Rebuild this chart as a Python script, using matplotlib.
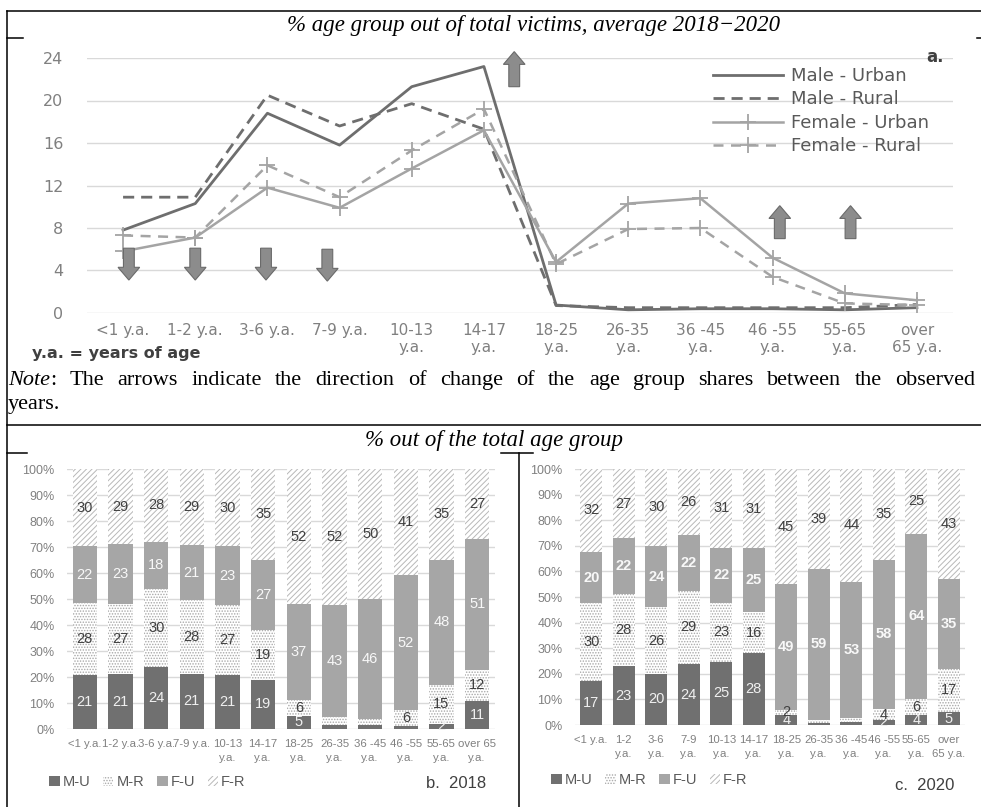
import matplotlib
matplotlib.use("Agg")
import matplotlib.pyplot as plt
import numpy as np
from matplotlib.lines import Line2D
from matplotlib.patches import FancyArrow, Patch
from matplotlib import font_manager as fm

W, H = 981, 807

# ---------------- data ----------------
top_groups = ["<1 y.a.", "1-2 y.a.", "3-6 y.a.", "7-9 y.a.", "10-13\ny.a.", "14-17\ny.a.",
              "18-25\ny.a.", "26-35\ny.a.", "36 -45\ny.a.", "46 -55\ny.a.", "55-65\ny.a.", "over\n65 y.a."]
male_urban = [7.8, 10.3, 18.8, 15.8, 21.3, 23.2, 0.75, 0.3, 0.4, 0.4, 0.3, 0.5]
male_rural = [10.9, 10.9, 20.5, 17.6, 19.7, 17.3, 0.7, 0.5, 0.5, 0.5, 0.5, 0.8]
female_urban = [5.8, 7.1, 11.8, 9.9, 13.6, 17.2, 4.8, 10.3, 10.8, 5.2, 1.85, 1.2]
female_rural = [7.3, 7.1, 13.9, 10.9, 15.3, 19.2, 4.6, 7.9, 8.0, 3.4, 0.9, 0.75]

# arrows: (category position, start value, end value)
change_arrows = [(0.08, 6.1, 3.1), (1.0, 6.1, 3.1), (1.98, 6.1, 3.1), (2.83, 6.0, 3.0),
                 (5.42, 21.3, 24.6), (9.1, 7.0, 10.1), (10.08, 7.0, 10.1)]

groups_2018 = ["<1 y.a.", "1-2 y.a.", "3-6 y.a.", "7-9 y.a.", "10-13\ny.a.", "14-17\ny.a.",
               "18-25\ny.a.", "26-35\ny.a.", "36 -45\ny.a.", "46 -55\ny.a.", "55-65\ny.a.", "over 65\ny.a."]
groups_2020 = ["<1 y.a.", "1-2\ny.a.", "3-6\ny.a.", "7-9\ny.a.", "10-13\ny.a.", "14-17\ny.a.",
               "18-25\ny.a.", "26-35\ny.a.", "36 -45\ny.a.", "46 -55\ny.a.", "55-65\ny.a.", "over\n65 y.a."]
series_names = ["M-U", "M-R", "F-U", "F-R"]

# non-integer values are segments that carry no label in the original
mu_2018 = [21, 21, 24, 21, 21, 19, 5, 1.5, 1.5, 1.2, 2, 11]
mr_2018 = [28, 27, 30, 28, 27, 19, 6, 3.2, 2.5, 6, 15, 12]
fu_2018 = [22, 23, 18, 21, 23, 27, 37, 43, 46, 52, 48, 51]
fr_2018 = [30, 29, 28, 29, 30, 35, 52, 52, 50, 41, 35, 27]

mu_2020 = [17, 23, 20, 24, 25, 28, 4, 0.8, 1.2, 2, 4, 5]
mr_2020 = [30, 28, 26, 29, 23, 16, 2, 1.2, 1.5, 4, 6, 17]
fu_2020 = [20, 22, 24, 22, 22, 25, 49, 59, 53, 58, 64, 35]
fr_2020 = [32, 27, 30, 26, 31, 31, 45, 39, 44, 35, 25, 43]

# ---------------- helpers ----------------
names = {f.name for f in fm.fontManager.ttflist}
NARROW = "Liberation Sans Narrow" if "Liberation Sans Narrow" in names else "Liberation Sans"
SERIF = "Liberation Serif"
plt.rcParams["hatch.linewidth"] = 0.7

fig = plt.figure(figsize=(W / 100, H / 100), dpi=100)


def fx(x):
    return x / W


def fy(y):
    return 1 - y / H


def axes_px(x0, y0, x1, y1):
    return fig.add_axes([fx(x0), fy(y1), (x1 - x0) / W, (y1 - y0) / H])


def fline(xs, ys):
    fig.add_artist(Line2D([fx(v) for v in xs], [fy(v) for v in ys],
                          transform=fig.transFigure, color="black", lw=1.1))


# frame lines
fline([7, 981], [10.5, 10.5])
fline([7, 7], [10.5, 807])
fline([7, 981], [425, 425])
fline([7, 23], [38, 38])
fline([977, 981], [38, 38])
fline([7, 27], [453, 453])
fline([501, 533], [453, 453])
fline([519, 519], [453, 807])

fig.text(fx(534), fy(25), "% age group out of total victims, average 2018\u22122020",
         family=SERIF, style="italic", fontsize=16.5, ha="center", va="center")
fig.text(fx(494), fy(440), "% out of the total age group",
         family=SERIF, style="italic", fontsize=16.5, ha="center", va="center")

# ---------------- top line chart ----------------
ax = axes_px(87, 58, 953, 313)
x = np.arange(len(top_groups))
dark, light = "#6e6e6e", "#a4a4a4"
ax.plot(x, male_urban, color=dark, lw=2.0, label="Male - Urban")
ax.plot(x, male_rural, color=dark, lw=2.0, ls=(0, (4, 2.5)), label="Male - Rural")
ax.plot(x, female_urban, color=light, lw=1.8, marker="+", ms=12, mew=1.3, label="Female - Urban")
ax.plot(x, female_rural, color=light, lw=1.8, ls=(0, (4, 3)), marker="+", ms=12, mew=1.3,
        label="Female - Rural")

for xa, y0, y1 in change_arrows:
    ax.add_patch(FancyArrow(xa, y0, 0, y1 - y0, width=0.15, head_width=0.3, head_length=1.2,
                            length_includes_head=True, fc="#8c8c8c", ec="#6a6a6a", lw=0.8,
                            clip_on=False, zorder=5))

ax.set_xlim(-0.5, 11.5)
ax.set_ylim(0, 24)
ax.set_yticks(range(0, 25, 4))
ax.set_xticks(x)
ax.set_xticklabels(top_groups, linespacing=1.15)
ax.tick_params(length=0, labelcolor="#808080", labelsize=11)
ax.tick_params(axis="y", pad=17, labelsize=11.5)
ax.tick_params(axis="x", pad=7)
ax.grid(axis="y", color="#d9d9d9", lw=1)
ax.set_axisbelow(True)
for s in ax.spines.values():
    s.set_visible(False)
ax.legend(loc="upper left", bbox_to_anchor=(fx(704), fy(58)), bbox_transform=fig.transFigure,
          frameon=False, fontsize=13, labelcolor="#595959", handlelength=3.9,
          handletextpad=0.4, labelspacing=0.3, borderpad=0, numpoints=1)
fig.text(fx(935), fy(57), "a.", fontsize=12, weight="bold", color="#404040", ha="center", va="center")
fig.text(fx(32), fy(353), "y.a. = years of age", fontsize=11.5, weight="bold", color="#404040",
         ha="left", va="center")

# ---------------- stacked bars ----------------
seg_styles = [dict(color="#707070", lw=0),
              dict(facecolor="white", hatch="......", edgecolor="#a8a8a8", lw=0),
              dict(color="#a6a6a6", lw=0),
              dict(facecolor="white", hatch="//////", edgecolor="#b8b8b8", lw=0)]
label_colors = ["#f0f0f0", "#404040", "#f8f8f8", "#404040"]


def stacked(box, groups, series, fu_bold, tag, tag_xy, legend_xy):
    a = axes_px(*box)
    data = np.array(series, dtype=float)
    shares = data / data.sum(axis=0) * 100
    xs = np.arange(len(groups))
    bottom = np.zeros(len(groups))
    for k in range(4):
        a.bar(xs, shares[k], 0.68, bottom=bottom, **seg_styles[k])
        for i in range(len(groups)):
            v = data[k, i]
            if v >= 2 and float(v).is_integer():
                a.text(xs[i], bottom[i] + shares[k, i] / 2, f"{int(v)}", ha="center", va="center",
                       family=NARROW, fontsize=10.5, color=label_colors[k],
                       weight="bold" if (k == 2 and fu_bold) else "normal")
        bottom += shares[k]
    a.set_xlim(-0.5, len(groups) - 0.5)
    a.set_ylim(0, 100)
    a.set_yticks(range(0, 101, 10))
    a.set_yticklabels([f"{v}%" for v in range(0, 101, 10)], family=NARROW)
    a.set_xticks(xs)
    a.set_xticklabels(groups, family=NARROW, linespacing=1.55)
    a.tick_params(length=0, labelcolor="#808080", labelsize=9)
    a.tick_params(axis="x", labelsize=8.2, pad=7)
    a.tick_params(axis="y", pad=9)
    a.grid(axis="y", color="#d9d9d9", lw=1)
    a.set_axisbelow(True)
    for s in a.spines.values():
        s.set_visible(False)
    handles = [Patch(**st) for st in seg_styles]
    fig.legend(handles, series_names, loc="center left",
               bbox_to_anchor=(fx(legend_xy[0]), fy(legend_xy[1])), bbox_transform=fig.transFigure,
               ncol=4, frameon=False, handlelength=0.7, handleheight=0.7, handletextpad=0.2,
               columnspacing=0.9, borderpad=0, prop=dict(family=NARROW, size=10.5),
               labelcolor="#595959")
    fig.text(fx(tag_xy[0]), fy(tag_xy[1]), tag, family=NARROW, fontsize=12, color="#404040",
             ha="right", va="center")


stacked((67, 469, 495, 729), groups_2018, [mu_2018, mr_2018, fu_2018, fr_2018], False,
        "b.  2018", (486, 784), (42, 782))
stacked((575, 469, 965, 725), groups_2020, [mu_2020, mr_2020, fu_2020, fr_2020], True,
        "c.  2020", (954, 785), (544, 780))

# ---------------- justified note ----------------
fig.canvas.draw()
r = fig.canvas.get_renderer()
serif = dict(family=SERIF, fontsize=16, va="center", ha="left")
yn = fy(380)
t_note = fig.text(0, yn, "Note", style="italic", **serif)
t_colon = fig.text(0, yn, ":", **serif)
words = "The arrows indicate the direction of change of the age group shares between the observed".split()
w_texts = [fig.text(0, yn, w, **serif) for w in words]
w_note = t_note.get_window_extent(r).width
w_colon = t_colon.get_window_extent(r).width
widths = [t.get_window_extent(r).width for t in w_texts]
x0, x1 = 8, 975
gap = ((x1 - x0) - (w_note + w_colon) - sum(widths)) / len(words)
t_note.set_x(fx(x0))
t_colon.set_x(fx(x0 + w_note))
pos = x0 + w_note + w_colon + gap
for t, w in zip(w_texts, widths):
    t.set_x(fx(pos))
    pos += w + gap
fig.text(fx(x0), fy(404), "years.", **serif)

fig.savefig("out.png", dpi=100)
